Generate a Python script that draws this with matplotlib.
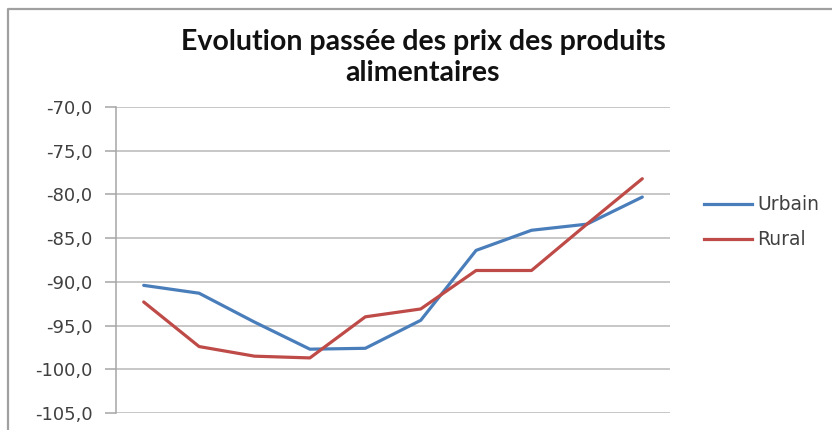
import matplotlib.pyplot as plt
from matplotlib.lines import Line2D

# data (10 periods, no category labels)
periods = list(range(10))
urbain = [-90.4, -91.3, -94.6, -97.7, -97.6, -94.4, -86.4, -84.1, -83.4, -80.3]
rural = [-92.3, -97.4, -98.5, -98.7, -94.0, -93.1, -88.7, -88.7, -83.4, -78.2]
yticks = [-105, -100, -95, -90, -85, -80, -75, -70]
title_lines = ["Evolution passée des prix des produits", "alimentaires"]

W, H = 832, 430
fig = plt.figure(figsize=(W / 100, H / 100), dpi=100)
ax = fig.add_axes([116 / W, 1 - 413 / H, (670 - 116) / W, (413 - 107) / H])

ax.plot(periods, urbain, color='#4a7ebb', lw=2.3, label='Urbain', solid_capstyle='round')
ax.plot(periods, rural, color='#be4b48', lw=2.3, label='Rural', solid_capstyle='round')

ax.set_xlim(-0.5, 9.5)
ax.set_ylim(-105, -70)
ax.set_yticks(yticks)
ax.set_yticklabels([f"{v:.1f}".replace('.', ',') for v in yticks],
                   fontsize=13, color='#404040')
ax.set_xticks([])
ax.grid(axis='y', color='#b8b8b8', lw=1.1)
ax.set_axisbelow(True)
for s in ['top', 'right', 'bottom']:
    ax.spines[s].set_visible(False)
ax.spines['left'].set_color('#a6a6a6')
ax.spines['left'].set_linewidth(1.1)
ax.tick_params(axis='y', length=8, width=1.1, color='#a6a6a6', pad=9)

# title, two centred lines
for txt, yy in zip(title_lines, [42, 73]):
    fig.text(423 / W, 1 - yy / H, txt, ha='center', va='center',
             fontsize=20.5, fontweight='bold', family='Lato', color='#111111')

# legend
for lab, col, yy in [('Urbain', '#4a7ebb', 204), ('Rural', '#be4b48', 239)]:
    fig.add_artist(Line2D([704 / W, 752 / W], [1 - yy / H, 1 - yy / H],
                          color=col, lw=2.3, transform=fig.transFigure))
    fig.text(757 / W, 1 - yy / H, lab, ha='left', va='center',
             fontsize=13.5, color='#404040')

# outer chart frame (partly cropped)
fig.add_artist(Line2D([8 / W, 8 / W, 1], [0, 1 - 9 / H, 1 - 9 / H],
                      color='#a0a0a0', lw=1.6, transform=fig.transFigure))

plt.savefig("out.png", dpi=100)
